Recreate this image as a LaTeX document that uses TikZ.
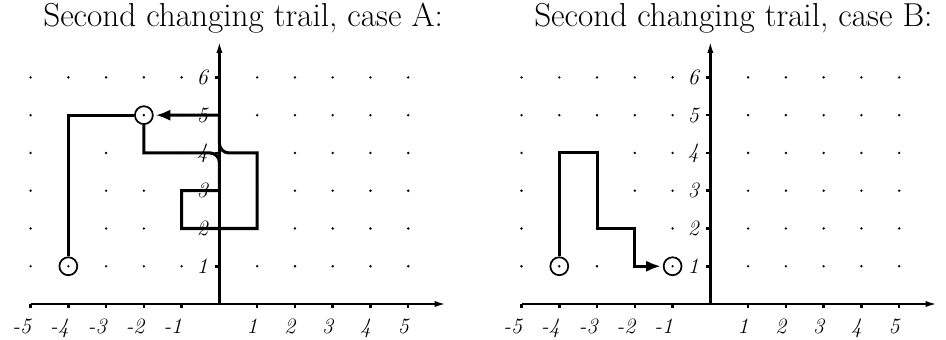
\documentclass[tikz,border=0pt]{standalone}
\usetikzlibrary{arrows.meta}
\tikzset{
  axisline/.style={line width=1.9pt,-{Latex[length=10pt,width=4.5pt]}},
  tickline/.style={line width=1.9pt},
  trail/.style={line width=2.3pt,line join=miter},
  trailarrow/.style={-{Latex[length=11pt,width=8.5pt]},shorten >=1.5pt},
  endpt/.style={circle,draw,line width=1.3pt,fill=white,minimum size=13.5pt,inner sep=0pt},
  ticklabel/.style={inner sep=0pt,font=\fontsize{16.5}{19}\selectfont\itshape},
  titletext/.style={inner sep=0pt,anchor=base west,font=\fontsize{25}{30}\selectfont},
  coordsys/.pic={
    \foreach \x in {-5,...,-1,1,2,...,5}
      \foreach \y in {1,...,6}
        \fill (\x,\y) circle (1pt);
    \foreach \x in {-5,...,-1,1,2,...,5} {
      \draw[tickline] (\x,0) -- (\x,-0.1);
      \node[ticklabel,anchor=north east] at (\x+0.02,-0.38) {\x};
    }
    \foreach \y in {1,...,6} {
      \draw[tickline] (-0.12,\y) -- (0,\y);
      \node[ticklabel,anchor=east] at (-0.3,\y) {\y};
    }
    \draw[axisline] (-5,0) -- (6.05,0);
    \draw[axisline] (0,0) -- (0,7);
  }
}
\begin{document}
\begin{tikzpicture}[x=1cm,y=1cm]
\useasboundingbox (-5.81,-0.95) rectangle (19.24,8.05);
% ---- case A ----
\pic {coordsys};
\node[titletext] (titleA) at (-4.67,7.34) {Second changing trail, case A:};
\node[endpt] (A0) at (-4,1) {};
\node[endpt] (A1) at (-2,5) {};
\fill (A0) circle (1pt);
\fill (A1) circle (1pt);
\draw[trail] (A0) -- (-4,5) -- (A1);
\draw[trail,trailarrow] (A1) -- (-2,4) -- (-0.25,4)
  arc[start angle=90,end angle=0,radius=0.25] -- (0,3) -- (-1,3) -- (-1,2)
  -- (1,2) -- (1,4) -- (0.25,4)
  arc[start angle=270,end angle=180,radius=0.25] -- (0,5) -- (A1);
% ---- case B ----
\begin{scope}[xshift=13cm]
\pic {coordsys};
\node[titletext] (titleB) at (-4.67,7.34) {Second changing trail, case B:};
\node[endpt] (B0) at (-4,1) {};
\node[endpt] (B1) at (-1,1) {};
\fill (B0) circle (1pt);
\fill (B1) circle (1pt);
\draw[trail,trailarrow] (B0) -- (-4,4) -- (-3,4) -- (-3,2) -- (-2,2) -- (-2,1) -- (B1);
\end{scope}
\end{tikzpicture}
\end{document}
